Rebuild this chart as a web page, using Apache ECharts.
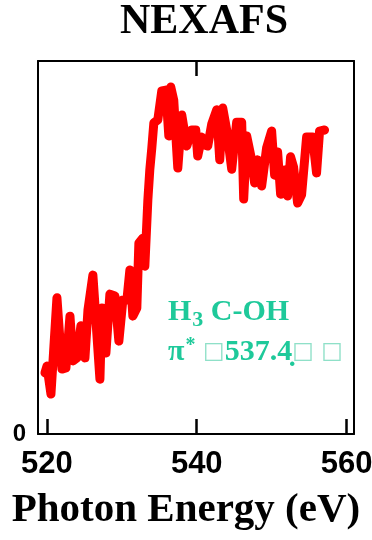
<!DOCTYPE html>
<html>
<head>
<meta charset="utf-8">
<script src="https://cdn.jsdelivr.net/npm/echarts@6/dist/echarts.min.js"></script>
<style>
  html, body { margin: 0; padding: 0; background: #fff; }
  #main { width: 372px; height: 540px; }
</style>
</head>
<body>
<div id="main"></div>
<script>
// photon energy (eV) and normalised NEXAFS intensity
var energy = [
  519.73, 520.0, 520.53, 521.33, 522.0, 522.53, 523.07, 523.47, 524.0, 524.53,
  525.07, 525.47, 526.13, 527.07, 527.33, 527.87, 528.4, 529.07, 529.6, 530.13,
  530.67, 531.07, 531.47, 532.0, 532.27, 532.8, 533.07, 533.47, 533.73, 534.0,
  534.27, 534.8, 535.33, 535.87, 536.27, 536.53, 536.93, 537.47, 538.0, 538.67,
  539.33, 539.87, 540.13, 540.67, 541.07, 541.47, 542.0, 542.67, 543.07, 543.47,
  544.0, 544.67, 545.33, 546.0, 546.27, 546.67, 547.33, 547.73, 548.13, 548.67,
  549.33, 550.0, 550.4, 550.8, 551.2, 551.73, 552.13, 552.53, 552.93, 553.47,
  554.0, 554.67, 555.47, 556.0, 556.4, 557.07
];
var intensity = [
  0.164, 0.182, 0.107, 0.365, 0.174, 0.177, 0.316, 0.196, 0.204, 0.290,
  0.204, 0.332, 0.426, 0.147, 0.338, 0.217, 0.375, 0.370, 0.249, 0.359,
  0.359, 0.440, 0.316, 0.338, 0.512, 0.525, 0.450, 0.627, 0.708, 0.767,
  0.834, 0.842, 0.920, 0.922, 0.799, 0.930, 0.895, 0.713, 0.855, 0.772,
  0.815, 0.815, 0.745, 0.796, 0.775, 0.772, 0.831, 0.869, 0.735, 0.874,
  0.815, 0.710, 0.836, 0.836, 0.630, 0.799, 0.735, 0.673, 0.735, 0.665,
  0.767, 0.812, 0.694, 0.756, 0.643, 0.708, 0.638, 0.743, 0.716, 0.619,
  0.641, 0.796, 0.796, 0.700, 0.812, 0.815
];
var xTicks = [520, 540, 560];
var topTicks = [540];
var yTicks = [0];

var serif = '"Liberation Serif", "DejaVu Serif", serif';
var sans = '"Liberation Sans", Arial, sans-serif';
var teal = '#1ec99a';

var points = [];
for (var i = 0; i < energy.length; i++) {
  points.push([energy[i], intensity[i]]);
}

var chart = echarts.init(document.getElementById('main'), null, { renderer: 'canvas' });

var option = {
  animation: false,
  grid: { left: 38, right: 18, top: 61, bottom: 106, outerBoundsMode: 'none' },
  xAxis: [
    {
      type: 'value',
      position: 'bottom',
      min: 518.8,
      max: 561,
      splitLine: { show: false },
      axisLine: { show: true, onZero: false, lineStyle: { color: '#000', width: 2 } },
      axisTick: { show: true, inside: true, length: 15, customValues: xTicks, lineStyle: { color: '#000', width: 2.5 } },
      axisLabel: {
        show: true, customValues: xTicks, margin: 15,
        color: '#000', fontFamily: sans, fontWeight: 'bold', fontSize: 31
      }
    },
    {
      type: 'value',
      position: 'top',
      min: 518.8,
      max: 561,
      splitLine: { show: false },
      axisLine: { show: true, onZero: false, lineStyle: { color: '#000', width: 2 } },
      axisTick: { show: true, inside: true, length: 15, customValues: topTicks, lineStyle: { color: '#000', width: 2.5 } },
      axisLabel: { show: false, customValues: topTicks }
    }
  ],
  yAxis: [
    {
      type: 'value',
      position: 'left',
      min: 0,
      max: 1,
      splitLine: { show: false },
      axisLine: { show: true, onZero: false, lineStyle: { color: '#000', width: 2 } },
      axisTick: { show: false },
      axisLabel: {
        show: true, customValues: yTicks, margin: 12,
        color: '#000', fontFamily: sans, fontWeight: 'bold', fontSize: 24
      }
    },
    {
      type: 'value',
      position: 'right',
      min: 0,
      max: 1,
      splitLine: { show: false },
      axisLine: { show: true, onZero: false, lineStyle: { color: '#000', width: 2 } },
      axisTick: { show: false },
      axisLabel: { show: false }
    }
  ],
  graphic: [
    {
      type: 'text',
      style: {
        x: 204, y: 22, text: 'NEXAFS', textAlign: 'center', textVerticalAlign: 'middle',
        font: 'bold 42px ' + serif, fill: '#000'
      }
    },
    {
      type: 'text',
      style: {
        x: 186, y: 510, text: 'Photon Energy (eV)', textAlign: 'center', textVerticalAlign: 'middle',
        font: 'bold 41px ' + serif, fill: '#000'
      }
    },
    {
      type: 'text',
      style: {
        x: 168, y: 292,
        text: '{m|H}{sub|3}{m| C-OH}\n{m|π}{sup|*}{m| }{box|□}{m|537.4\u0323}{box|□ □}',
        fill: teal,
        rich: {
          m: { fontFamily: serif, fontWeight: 'bold', fontSize: 30, fill: teal, lineHeight: 40 },
          sub: { fontFamily: serif, fontWeight: 'bold', fontSize: 22, fill: teal, lineHeight: 40, padding: [16, 0, 0, 1] },
          sup: { fontFamily: serif, fontWeight: 'bold', fontSize: 20, fill: teal, lineHeight: 40, padding: [0, 0, 12, 1] },
          box: { fontFamily: '"DejaVu Sans", sans-serif', fontSize: 23, fill: '#8fe0c8', lineHeight: 40 }
        }
      }
    }
  ],
  series: [
    {
      type: 'line',
      xAxisIndex: 0,
      yAxisIndex: 0,
      data: points,
      showSymbol: false,
      smooth: false,
      lineStyle: { color: '#ff0000', width: 9, cap: 'round', join: 'round' }
    }
  ]
};

chart.setOption(option);
</script>
</body>
</html>
